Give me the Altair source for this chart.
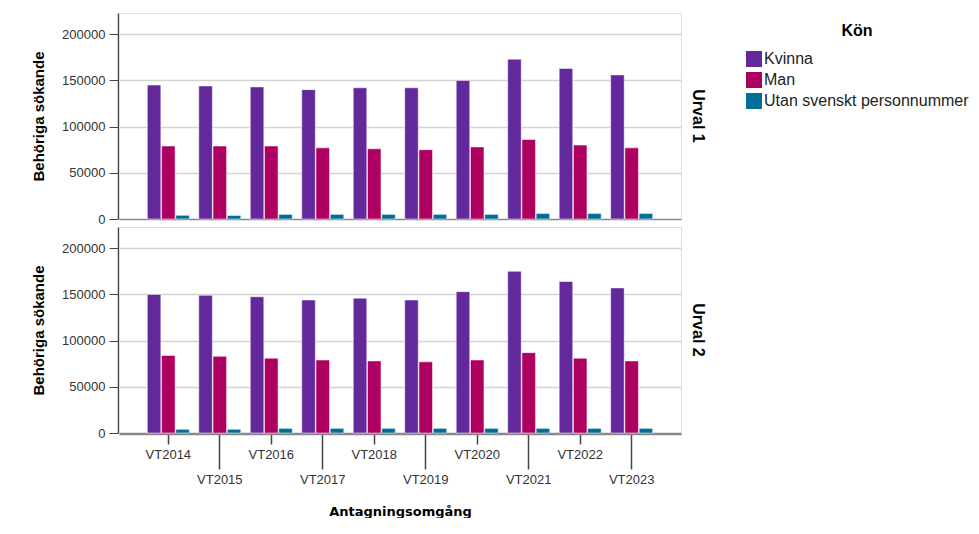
import altair as alt
import pandas as pd

years = ["VT2014", "VT2015", "VT2016", "VT2017", "VT2018",
         "VT2019", "VT2020", "VT2021", "VT2022", "VT2023"]
groups = ["Kvinna", "Man", "Utan svenskt personnummer"]
colors = ["#62289C", "#AE0060", "#006E96"]
urval = ["Urval 1", "Urval 2"]

u1_kvinna = [145000, 144000, 143000, 140000, 142000, 142000, 150000, 173000, 163000, 156000]
u1_man = [79000, 79000, 79000, 77000, 76000, 75000, 78000, 86000, 80000, 77000]
u1_utan = [4000, 3800, 5000, 5000, 5000, 5000, 5000, 6000, 6000, 6000]
u2_kvinna = [150000, 149000, 147500, 144000, 146000, 144000, 153000, 175000, 164000, 157000]
u2_man = [84000, 83000, 81000, 79000, 78000, 77000, 79000, 87000, 81000, 78000]
u2_utan = [4000, 4000, 5000, 5000, 5000, 5000, 5000, 5000, 5000, 5000]

y_ticks = [0, 50000, 100000, 150000, 200000]
odd_years = ["VT2015", "VT2017", "VT2019", "VT2021", "VT2023"]

series = {
    ("Urval 1", "Kvinna"): u1_kvinna,
    ("Urval 1", "Man"): u1_man,
    ("Urval 1", "Utan svenskt personnummer"): u1_utan,
    ("Urval 2", "Kvinna"): u2_kvinna,
    ("Urval 2", "Man"): u2_man,
    ("Urval 2", "Utan svenskt personnummer"): u2_utan,
}
rows = []
for (u, g), vals in series.items():
    for yr, v in zip(years, vals):
        rows.append({"urval": u, "kon": g, "year": yr, "value": v})
df = pd.DataFrame(rows)

odd_test = "indexof(" + str(odd_years) + ", datum.value) >= 0"
FONT = "Liberation Sans"

base = alt.Chart(df).mark_bar(stroke="white", strokeWidth=1, strokeOpacity=0.5).encode(
    x=alt.X("year:N", sort=years,
            scale=alt.Scale(paddingInner=0.184, paddingOuter=0.55),
            axis=alt.Axis(title="Antagningsomgång", labelAngle=0,
                          labelFont=FONT, labelFontSize=13, labelColor="#333",
                          tickSize={"condition": {"test": odd_test, "value": 35}, "value": 10},
                          tickColor="#444", tickWidth=1.5,
                          labelPadding=4,
                          domainColor="#888", domainWidth=1.5,
                          titleFont="DejaVu Sans", titleFontSize=13, titleFontWeight="bold",
                          titleColor="black", titlePadding=19)),
    xOffset=alt.XOffset("kon:N", sort=groups,
                        scale=alt.Scale(paddingInner=0.05, paddingOuter=0)),
    y=alt.Y("value:Q",
            scale=alt.Scale(domain=[0, 223000], nice=False),
            axis=alt.Axis(title="Behöriga sökande", values=y_ticks, format="d",
                          labelFont=FONT, labelFontSize=13, labelColor="#333",
                          tickSize=9, tickColor="#444", labelPadding=4,
                          domainColor="#444", domainWidth=1.5,
                          gridColor={"condition": {"test": "datum.value == 0", "value": "#888"},
                                     "value": "#d4d4d4"},
                          gridWidth=1.5,
                          titleFont=FONT, titleFontSize=15, titleFontWeight="bold",
                          titleColor="black", titlePadding=15)),
    color=alt.Color("kon:N", sort=groups,
                    scale=alt.Scale(domain=groups, range=colors),
                    legend=alt.Legend(title="Kön", titleFont=FONT, titleFontSize=16,
                                      titleFontWeight="bold", titleColor="black",
                                      titleAnchor="middle", titlePadding=12,
                                      labelFont=FONT, labelFontSize=16, labelColor="#222",
                                      symbolType="square", symbolSize=256,
                                      symbolStrokeWidth=0, labelOffset=2,
                                      rowPadding=5, padding=0,
                                      orient="none", legendX=627, legendY=10,
                                      labelLimit=400)),
).properties(width=562, height=206)

chart = base.facet(
    row=alt.Row("urval:N", sort=urval, title=None,
                header=alt.Header(labelOrient="right", labelAngle=90,
                                  labelFont=FONT, labelFontSize=16,
                                  labelFontWeight="bold", labelColor="black",
                                  labelPadding=8)),
    spacing=6,
).properties(
    padding={"left": 23, "top": 4, "right": 0, "bottom": 0}
).configure_view(stroke=None).configure(background="white")

chart.save("out.html", embed_options={"renderer": "svg", "actions": False})
